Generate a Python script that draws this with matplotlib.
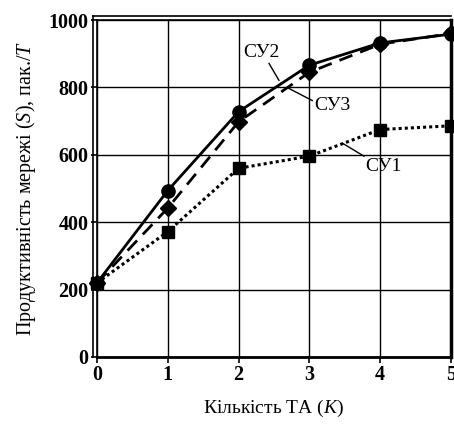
import matplotlib
matplotlib.use("Agg")
import matplotlib.pyplot as plt
from matplotlib.lines import Line2D

K = [0, 1, 2, 3, 4, 5]
su1 = [220, 372, 560, 596, 675, 686]
su2 = [220, 494, 728, 866, 932, 958]
su3 = [220, 442, 698, 845, 928, 960]
xticks = [0, 1, 2, 3, 4, 5]
yticks = [0, 200, 400, 600, 800, 1000]

plt.rcParams['font.family'] = ['Liberation Serif', 'DejaVu Serif']
plt.rcParams['mathtext.fontset'] = 'custom'
plt.rcParams['mathtext.it'] = 'Liberation Serif:italic'
plt.rcParams['mathtext.rm'] = 'Liberation Serif'

fig = plt.figure(figsize=(4.54, 4.28), dpi=100)
ax = fig.add_axes([97/454, 71/428, 354/454, 337/428])
ax.set_xlim(0, 5)
ax.set_ylim(0, 1000)
ax.set_xticks(xticks)
ax.set_yticks(yticks)
ax.grid(True, color='black', linewidth=1.0)
ax.set_axisbelow(True)
for s in ax.spines.values():
    s.set_linewidth(1.2)
ax.spines['bottom'].set_linewidth(2.0)
ax.spines['right'].set_linewidth(2.5)
ax.tick_params(direction='out', length=4, width=1.2, labelsize=14.5, pad=2)
for lab in ax.get_xticklabels() + ax.get_yticklabels():
    lab.set_fontweight('semibold')

# double frame lines
ax.add_line(Line2D([-0.011, -0.011], [0, 1.012], transform=ax.transAxes, color='black', lw=1.2, clip_on=False))
ax.add_line(Line2D([-0.011, 1.0], [1.012, 1.012], transform=ax.transAxes, color='black', lw=1.2, clip_on=False))

ax.plot(K, su2, color='black', linestyle='-', linewidth=2.0, marker='o', markersize=9.5, clip_on=False, zorder=3)
ax.plot(K, su3, color='black', linestyle=(0, (5, 3)), linewidth=2.0, marker='D', markersize=8, clip_on=False, zorder=3)
ax.plot(K, su1, color='black', linestyle=(0, (1, 1)), linewidth=2.2, marker='s', markersize=9, clip_on=False, zorder=4)

ax.text(2.32, 904, 'СУ2', fontsize=14, ha='center', va='center')
ax.plot([2.43, 2.57], [871, 821], color='black', lw=1.0)
ax.text(3.32, 747, 'СУ3', fontsize=14, ha='center', va='center')
ax.plot([2.71, 3.04], [797, 761], color='black', lw=1.0)
ax.text(4.05, 566, 'СУ1', fontsize=14, ha='center', va='center')
ax.plot([3.47, 3.77], [634, 596], color='black', lw=1.0)

ax.set_xlabel('Кількість ТА ($\\mathit{K}$)', fontsize=14, labelpad=9)
ax.set_ylabel('Продуктивність мережі ($\\mathit{S}$), пак./$\\mathit{T}$', fontsize=14.5, labelpad=8)

fig.savefig('out.png', dpi=100)
